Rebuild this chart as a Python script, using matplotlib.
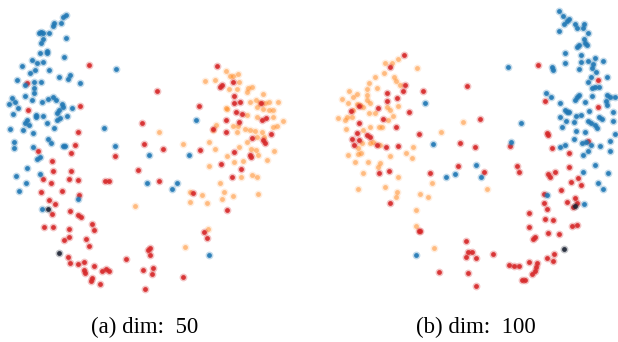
import matplotlib
matplotlib.use('Agg')
import matplotlib.pyplot as plt
import numpy as np

# panel (a): dim 50  -- coordinates (x right, y down)
a_blue = [(66,15),(63,17),(61,23),(54,23),(53,26),(41,32),(39,33),(43,33),(49,33),(43,39),(41,43),(66,38),
          (47,51),(47,53),(40,53),(64,57),(32,60),(37,63),(43,62),(22,66),(35,70),(30,73),(49,70),(59,77),
          (70,75),(68,79),(80,83),(17,80),(25,85),(34,82),(41,82),(34,88),(34,93),(25,96),(12,98),(15,102),
          (9,104),(18,108),(32,100),(42,102),(48,99),(53,97),(56,100),(62,104),(63,107),(59,110),(57,113),
          (72,108),(67,116),(60,118),(57,120),(13,114),(36,115),(36,117),(43,116),(47,123),(54,128),(27,120),
          (25,123),(29,125),(23,130),(33,133),(10,129),(14,142),(48,139),(51,143),(63,146),(65,146),(33,147),
          (14,148),(104,128),(116,69),(115,146),(149,155),(40,157),(37,159),(27,168),(16,176),(40,174),
          (26,183),(19,191),(147,183),(78,199),(42,209),(196,120),(189,155),(177,183),(172,189),(209,255)]
a_red = [(89,65),(27,83),(157,91),(28,110),(80,106),(78,132),(142,123),(75,145),(144,144),(38,151),(71,153),
         (115,156),(52,161),(53,171),(71,171),(138,170),(43,179),(51,183),(69,179),(78,180),(105,181),(109,181),
         (159,181),(41,192),(62,191),(79,195),(49,200),(55,204),(52,214),(70,211),(78,215),(81,217),(92,224),
         (94,230),(44,227),(53,227),(69,229),(69,237),(64,240),(86,239),(89,246),(148,250),(150,248),(150,255),
         (68,257),(126,259),(70,263),(78,264),(84,262),(94,266),(84,270),(85,273),(102,271),(106,269),(109,271),
         (143,270),(153,268),(152,274),(92,278),(91,281),(100,284),(145,289),(217,66),(220,87),(222,85),(233,82),
         (234,96),(234,103),(240,102),(199,106),(236,112),(242,114),(226,120),(239,122),(213,129),(226,132),
         (262,120),(266,118),(271,134),(252,138),(263,140),(265,143),(234,152),(250,155),(251,157),(200,150),
         (163,149),(221,164),(241,169),(232,177),(193,193),(227,210),(204,232),(207,238),(183,277),(261,103)]
a_orange = [(205,81),(215,80),(226,71),(230,76),(233,76),(238,74),(239,82),(229,89),(237,89),(248,88),(252,87),
            (247,92),(263,94),(250,102),(256,100),(260,103),(257,107),(265,103),(269,102),(278,102),(263,109),
            (273,110),(269,110),(226,108),(227,109),(247,115),(257,117),(273,117),(283,121),(277,126),(273,127),
            (216,125),(213,130),(233,126),(238,126),(237,132),(245,129),(250,130),(255,131),(262,132),(264,137),
            (257,137),(247,142),(239,147),(251,149),(256,150),(258,155),(267,160),(274,151),(243,161),(234,162),
            (227,156),(209,142),(215,149),(209,166),(183,144),(159,132),(241,177),(252,175),(257,177),(220,183),
            (224,192),(222,199),(233,196),(202,195),(190,192),(190,202),(207,203),(258,194),(208,229),(185,247),
            (135,206)]
a_dark = [(48,209),(59,253)]

# panel (b): dim 100
b_blue = [(425,103),(433,144),(446,177),(455,174),(416,255),
          (559,11),(563,16),(569,19),(567,21),(564,24),(575,24),(577,28),(584,24),(583,28),(588,33),(559,31),
          (584,39),(585,43),(587,45),(579,45),(577,47),(581,55),(565,53),(565,63),(581,62),(588,61),(595,58),
          (593,64),(592,68),(603,61),(579,69),(552,67),(553,70),(596,72),(591,77),(588,82),(607,77),(592,88),
          (595,87),(599,87),(546,93),(551,97),(577,97),(579,95),(592,96),(575,100),(585,102),(607,95),(610,97),
          (615,97),(606,101),(607,105),(560,103),(565,110),(567,112),(569,112),(560,117),(566,121),(574,122),
          (576,116),(581,115),(589,111),(599,117),(602,119),(588,121),(591,123),(595,125),(597,128),(613,112),
          (613,121),(562,127),(576,131),(585,132),(574,139),(582,143),(586,142),(591,145),(600,146),(615,134),
          (521,123),(508,67),(560,147),(565,145),(511,142),(610,141),(583,155),(588,151),(610,151),(476,165),
          (481,177),(595,165),(583,172),(608,173),(598,183),(603,189),(547,195),(584,204)]
b_red = [(404,55),(390,67),(405,85),(403,91),(467,86),(423,91),(387,93),(387,101),(397,98),(409,112),(378,108),
         (351,111),(359,106),(383,119),(359,123),(396,127),(419,134),(357,133),(352,139),(359,140),(354,145),
         (367,135),(370,137),(377,145),(386,147),(398,146),(460,143),(458,166),(430,173),(379,173),(389,171),
         (390,203),(419,231),(420,231),(466,241),(468,252),(466,257),(439,272),(468,273),
         (538,65),(598,80),(545,101),(598,107),(480,119),(547,133),(548,135),
         (475,147),(510,146),(552,148),(588,141),(569,153),(484,172),(517,166),(519,172),(548,174),(550,177),
         (555,172),(569,167),(578,178),(571,182),(581,185),(561,190),(544,194),(575,198),(567,202),(577,203),
         (573,207),(544,203),(547,209),(529,213),(545,219),(553,220),(529,227),(572,226),(577,225),(548,233),
         (559,234),(535,237),(533,239),(472,252),(476,258),(493,254),(554,254),(547,258),(553,261),(529,262),
         (537,263),(536,267),(509,265),(514,266),(519,266),(535,271),(532,274),(522,280),(525,280),(476,286)]
b_orange = [(385,63),(392,63),(398,59),(417,68),(384,73),(394,77),(375,77),(369,83),(377,88),(367,89),(396,81),
            (400,85),(349,91),(357,94),(353,97),(367,95),(342,99),(348,103),(357,104),(360,105),(363,107),
            (353,110),(367,100),(370,103),(387,107),(390,110),(398,106),(369,113),(375,113),(347,117),(338,118),
            (345,120),(352,117),(393,116),(388,120),(379,127),(382,127),(346,129),(363,130),(370,127),(362,143),
            (370,143),(373,142),(380,145),(358,148),(361,153),(348,155),(358,154),(368,162),(355,162),(380,163),
            (378,167),(390,156),(406,153),(413,147),(412,158),(363,173),(398,177),(385,187),(358,189),(397,192),
            (396,197),(420,194),(428,197),(432,183),(441,132),(463,122),(416,210),(416,226),(434,248),(487,189)]
b_dark = [(575,206),(564,249)]

captions = ['(a) dim:  50', '(b) dim:  100']

BLUE = '#1f77b4'
RED = '#d62728'
ORANGE = '#ff7f0e'
DARK = '#1c2233'

fig = plt.figure(figsize=(6.18, 3.42), dpi=100)
ax_a = fig.add_axes([0, 0, 0.5, 1])
ax_b = fig.add_axes([0.5, 0, 0.5, 1])


def draw(ax, groups):
    for pts, col, alpha in groups:
        xy = np.array(pts, dtype=float)
        # soft halo + solid core to mimic the blurry markers
        ax.scatter(xy[:, 0], xy[:, 1], s=32, color=col, alpha=alpha * 0.3, linewidths=0)
        ax.scatter(xy[:, 0], xy[:, 1], s=12, color=col, alpha=alpha, linewidths=0)


draw(ax_a, [(a_orange, ORANGE, 0.45), (a_red, RED, 0.9), (a_blue, BLUE, 0.9), (a_dark, DARK, 0.9)])
draw(ax_b, [(b_orange, ORANGE, 0.45), (b_red, RED, 0.9), (b_blue, BLUE, 0.9), (b_dark, DARK, 0.9)])

ax_a.set_xlim(0, 309)
ax_b.set_xlim(309, 618)
for ax in (ax_a, ax_b):
    ax.set_ylim(342, 0)
    ax.axis('off')

fig.text(145 / 618, 1 - 327 / 342, captions[0], ha='center', va='center',
         family='Liberation Serif', fontsize=16.5)
fig.text(476 / 618, 1 - 327 / 342, captions[1], ha='center', va='center',
         family='Liberation Serif', fontsize=16.5)

fig.savefig('out.png', dpi=100)
